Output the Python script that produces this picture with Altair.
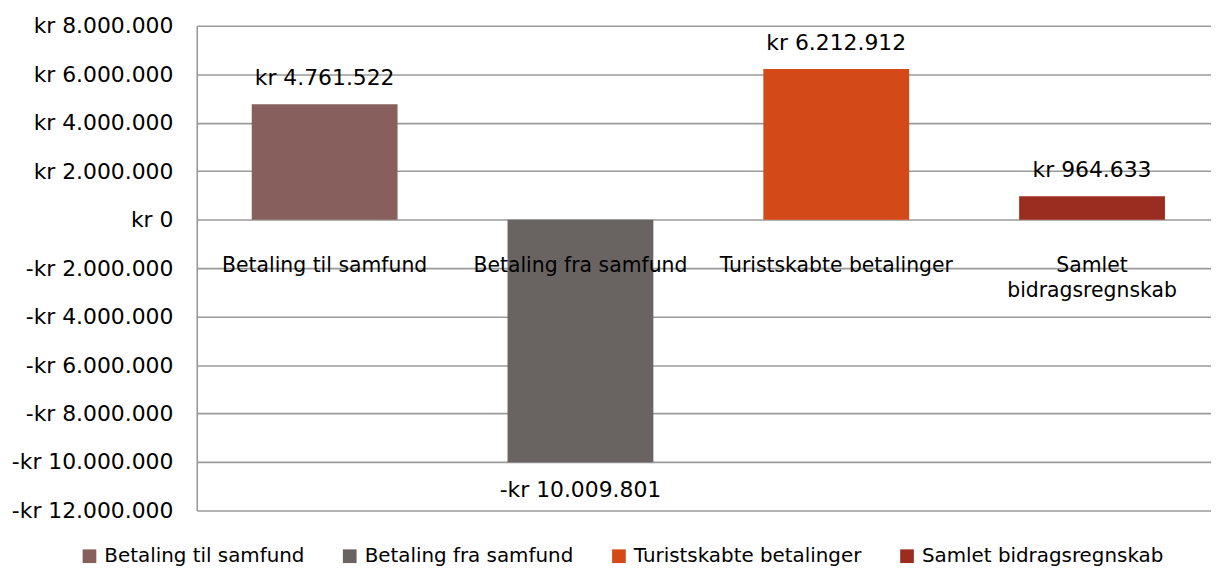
import altair as alt
import pandas as pd

categories = ["Betaling til samfund", "Betaling fra samfund", "Turistskabte betalinger", "Samlet bidragsregnskab"]
axis_labels = [["Betaling til samfund"], ["Betaling fra samfund"], ["Turistskabte betalinger"], ["Samlet", "bidragsregnskab"]]
values = [4761522, -10009801, 6212912, 964633]
value_labels = ["kr 4.761.522", "-kr 10.009.801", "kr 6.212.912", "kr 964.633"]
colors = ["#87605E", "#696462", "#D34A18", "#9B2D20"]
y_ticks = [8000000, 6000000, 4000000, 2000000, 0, -2000000, -4000000, -6000000, -8000000, -10000000, -12000000]

df = pd.DataFrame({
    "cat": categories,
    "val": values,
    "vlabel": value_labels,
    "alabel": axis_labels,
})

FONT = "DejaVu Sans"

xenc = alt.X("cat:N", sort=categories, axis=None,
             scale=alt.Scale(range=[0, 1030], paddingInner=0.43, paddingOuter=0.215))
yscale = alt.Scale(domain=[-12000000, 8000000], nice=False)

bars = alt.Chart(df).mark_bar().encode(
    x=xenc,
    y=alt.Y("val:Q", scale=yscale, title=None,
            axis=alt.Axis(values=y_ticks, ticks=False, labelPadding=24,
                          labelFontSize=22, labelFont=FONT, labelColor="#000000",
                          grid=True, gridColor="#9A9A9A", gridWidth=1.6,
                          domainColor="#9A9A9A", domainWidth=1.6,
                          labelExpr="(datum.value < 0 ? '-kr ' : 'kr ') + replace(format(abs(datum.value), ','), /,/g, '.')")),
    color=alt.Color("cat:N", sort=categories,
                    scale=alt.Scale(domain=categories, range=colors),
                    legend=alt.Legend(title=None, orient="none", legendX=-118, legendY=524,
                                      direction="horizontal", columns=4, labelLimit=0,
                                      symbolType="square", symbolSize=190, symbolStrokeWidth=0,
                                      labelFontSize=20, labelFont=FONT, labelColor="#000000",
                                      columnPadding=35, labelOffset=5, padding=0)),
)

pos_labels = alt.Chart(df).transform_filter("datum.val >= 0").mark_text(
    fontSize=22, font=FONT, color="#000000", baseline="middle", dy=-26
).encode(x=xenc, y=alt.Y("val:Q", scale=yscale), text="vlabel:N")

neg_labels = alt.Chart(df).transform_filter("datum.val < 0").mark_text(
    fontSize=22, font=FONT, color="#000000", baseline="middle", dy=28
).encode(x=xenc, y=alt.Y("val:Q", scale=yscale), text="vlabel:N")

cat_labels = alt.Chart(df).mark_text(
    fontSize=20.5, font=FONT, color="#000000", baseline="top", dy=37, lineHeight=25
).encode(x=xenc, y=alt.datum(0, scale=yscale), text="alabel")

chart = alt.layer(bars, pos_labels, neg_labels, cat_labels).properties(
    width=1021, height=488,
    autosize=alt.AutoSizeParams(type="none"),
    padding={"left": 190, "top": 16, "right": 0, "bottom": 57},
).configure_view(stroke=None)

chart.save("out.html", embed_options={"renderer": "svg", "actions": False})
